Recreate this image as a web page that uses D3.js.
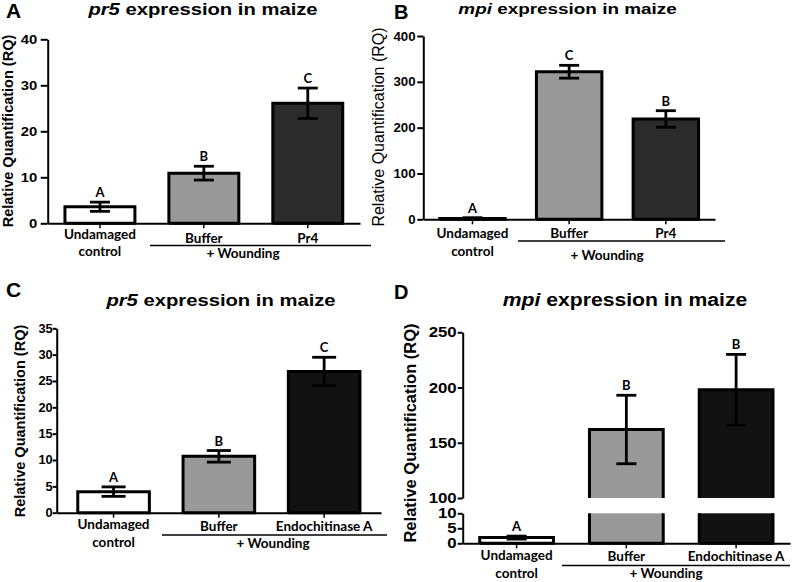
<!DOCTYPE html>
<html><head><meta charset="utf-8">
<script src="https://cdn.jsdelivr.net/npm/d3@7"></script>
<style>body{margin:0;background:#fff} svg{display:block}</style>
</head><body>
<svg id="c" width="797" height="582"></svg>
<script>
// ---------- data ----------
const categoriesPr4 = ["Undamaged|control", "Buffer", "Pr4"];
const categoriesEndo = ["Undamaged|control", "Buffer", "Endochitinase A"];
const pr5Pr4Means = [3.6, 10.9, 26.1];
const pr5Pr4Errors = [1.0, 1.5, 3.3];
const pr5Pr4Letters = ["A", "B", "C"];
const mpiPr4Means = [2, 322, 219];
const mpiPr4Errors = [1.5, 14, 18];
const mpiPr4Letters = ["A", "C", "B"];
const pr5EndoMeans = [4.0, 10.7, 26.8];
const pr5EndoErrors = [0.9, 1.1, 2.7];
const pr5EndoLetters = ["A", "B", "C"];
const mpiEndoMeans = [1.9, 162, 198];
const mpiEndoErrors = [0.5, 31, 32];
const mpiEndoLetters = ["A", "B", "B"];
const ticksA = [0, 10, 20, 30, 40];
const ticksB = [0, 100, 200, 300, 400];
const ticksC = [0, 5, 10, 15, 20, 25, 30, 35];
const ticksDLower = [0, 5, 10];
const ticksDUpper = [100, 150, 200, 250];
const fillsPr4 = ["#ffffff", "#999999", "#2b2b2b"];
const fillsEndo = ["#ffffff", "#999999", "#121212"];
const titleGenes = ["pr5", "mpi", "pr5", "mpi"];
const panelLetters = ["A", "B", "C", "D"];
const yTitle = "Relative Quantification (RQ)";
const groupLabel = "+ Wounding";

const svg = d3.select("#c");
const ARIAL = "'Liberation Sans', Arial, sans-serif";
const CAL = "Lato, 'Open Sans', sans-serif";

const panels = [
  { letter: panelLetters[0], gene: titleGenes[0], cats: categoriesPr4, means: pr5Pr4Means, errs: pr5Pr4Errors, letters: pr5Pr4Letters, fills: fillsPr4,
    x0: 47.7, x1: 360, pi: 0.327, po: 0.166,
    segs: [{ d: [0, 40], r: [223.3, 39.3], ticks: ticksA }],
    tk: { fs: 13.5, sx: 1.1, size: 7, gap: 10.4 }, cap: 20,
    yt: { cx: 8, cy: 131, fs: 14.5, w: "bold" },
    pl: { x: 6, y: 18, fs: 21 }, title: { cx: 203, y: 15, fs: 17, sx: 1.19 },
    lab: { u1: 239, u2: 256, o: 243, line: 245.5, lx0: 150, lx1: 371, wy: 258, wx: 243 } },
  { letter: panelLetters[1], gene: titleGenes[1], cats: categoriesPr4, means: mpiPr4Means, errs: mpiPr4Errors, letters: mpiPr4Letters, fills: fillsPr4,
    x0: 423.3, x1: 715, pi: 0.323, po: 0.17,
    segs: [{ d: [0, 400], r: [219.3, 36], ticks: ticksB }],
    tk: { fs: 12.5, sx: 1.06, size: 6, gap: 7.8 }, cap: 20,
    yt: { cx: 378, cy: 127, fs: 16, w: "normal" },
    pl: { x: 394, y: 18.5, fs: 20 }, title: { cx: 567.5, y: 14, fs: 15.5, sx: 1.22 },
    lab: { u1: 238, u2: 256, o: 238, line: 241, lx0: 518, lx1: 725, wy: 260, wx: 607 } },
  { letter: panelLetters[2], gene: titleGenes[2], cats: categoriesEndo, means: pr5EndoMeans, errs: pr5EndoErrors, letters: pr5EndoLetters, fills: fillsEndo,
    x0: 56.7, x1: 381, pi: 0.32, po: 0.2,
    segs: [{ d: [0, 35], r: [512.7, 328.3], ticks: ticksC }],
    tk: { fs: 12, sx: 1.07, size: 4, gap: 4 }, cap: 24,
    yt: { cx: 20, cy: 421, fs: 14.5, w: "bold" },
    pl: { x: 6, y: 296.5, fs: 21 }, title: { cx: 221, y: 305.5, fs: 17, sx: 1.19 },
    lab: { u1: 529, u2: 547, o: 531, line: 535, lx0: 162, lx1: 387, wy: 548, wx: 273 } },
  { letter: panelLetters[3], gene: titleGenes[3], cats: categoriesEndo, means: mpiEndoMeans, errs: mpiEndoErrors, letters: mpiEndoLetters, fills: fillsEndo,
    x0: 462.7, x1: 790, pi: 0.328, po: 0.155,
    segs: [{ d: [0, 10], r: [543.3, 513.3], ticks: ticksDLower }, { d: [100, 250], r: [498, 332.3], ticks: ticksDUpper }],
    tk: { fs: 14, sx: 1.2, size: 5, gap: 6 }, cap: 20,
    yt: { cx: 410, cy: 433, fs: 16.5, w: "bold" },
    pl: { x: 394, y: 298.5, fs: 20 }, title: { cx: 625, y: 305.5, fs: 17.5, sx: 1.21 },
    lab: { u1: 560, u2: 578, o: 561, line: 565.5, lx0: 562, lx1: 790, wy: 578, wx: 666 } }
];

function catText(g, x, y, s, fs) {
  return g.append("text").attr("x", x).attr("y", y).attr("text-anchor", "middle")
    .attr("font-family", CAL).attr("font-weight", "bold").attr("font-size", fs).attr("fill", "#000").text(s);
}

function drawPanel(p) {
  const g = svg.append("g");
  const x = d3.scaleBand().domain(p.cats).range([p.x0, p.x1]).paddingInner(p.pi).paddingOuter(p.po);
  const segs = p.segs.map(s => ({ ...s, y: d3.scaleLinear().domain(s.d).range(s.r) }));
  const segFor = v => segs.find(s => v >= s.d[0] && v <= s.d[1]) || segs[segs.length - 1];
  const yv = v => segFor(v).y(v);
  const y0 = segs[0].y(segs[0].d[0]);

  // bars
  p.cats.forEach((c, i) => {
    const v = p.means[i];
    const bx = x(c), bw = x.bandwidth();
    segs.forEach((s, si) => {
      if (v <= s.d[0]) return;
      const top = Math.min(v, s.d[1]);
      const yTop = s.y(top), yBot = s.y(s.d[0]);
      g.append("rect").attr("x", bx).attr("y", yTop).attr("width", bw).attr("height", yBot - yTop)
        .attr("fill", p.fills[i]);
      let path = `M${bx},${yBot}V${yTop}`;
      if (v <= s.d[1]) path += `H${bx + bw}`; else path += `M${bx + bw},${yTop}`;
      path += `V${yBot}`;
      if (si === 0) path += `H${bx}`;
      g.append("path").attr("d", path).attr("fill", "none").attr("stroke", "#000")
        .attr("stroke-width", 3).attr("stroke-linejoin", "miter");
    });
    // error bar
    const e = p.errs[i], cx = bx + bw / 2;
    const yHi = yv(v + e), yLo = yv(Math.max(0, v - e));
    const eg = g.append("g").attr("stroke", "#000").attr("stroke-width", 2.8).attr("fill", "none");
    eg.append("line").attr("x1", cx).attr("x2", cx).attr("y1", yHi).attr("y2", yLo);
    eg.append("line").attr("x1", cx - p.cap / 2).attr("x2", cx + p.cap / 2).attr("y1", yHi).attr("y2", yHi);
    eg.append("line").attr("x1", cx - p.cap / 2).attr("x2", cx + p.cap / 2).attr("y1", yLo).attr("y2", yLo);
    // significance letter
    catText(g, cx, yHi - 5, p.letters[i], 13);
  });

  // y axes
  segs.forEach(s => {
    const ax = g.append("g").attr("transform", `translate(${p.x0},0)`)
      .call(d3.axisLeft(s.y).tickValues(s.ticks).tickSize(p.tk.size).tickSizeOuter(0));
    ax.select(".domain").attr("stroke-width", 2);
    ax.selectAll(".tick line").attr("stroke-width", 2);
    ax.selectAll(".tick text").attr("font-family", ARIAL).attr("font-weight", "bold")
      .attr("font-size", p.tk.fs).attr("fill", "#000")
      .attr("x", -p.tk.gap / p.tk.sx).attr("transform", `scale(${p.tk.sx},1)`);
  });
  // x axis
  const xa = g.append("g").attr("transform", `translate(0,${y0})`)
    .call(d3.axisBottom(x).tickSize(5).tickSizeOuter(0).tickFormat(""));
  xa.select(".domain").attr("stroke-width", 2);
  xa.selectAll(".tick line").attr("stroke-width", 1.5);

  // category labels
  p.cats.forEach((c) => {
    const parts = c.split("|");
    const cx = x(c) + x.bandwidth() / 2;
    if (parts.length > 1) {
      catText(g, cx, p.lab.u1, parts[0], 13.5);
      catText(g, cx, p.lab.u2, parts[1], 13.5);
    } else {
      catText(g, cx, p.lab.o, parts[0], 13.5);
    }
  });
  g.append("line").attr("x1", p.lab.lx0).attr("x2", p.lab.lx1).attr("y1", p.lab.line).attr("y2", p.lab.line)
    .attr("stroke", "#000").attr("stroke-width", 1.5);
  catText(g, p.lab.wx, p.lab.wy, groupLabel, 13.5);

  // y title
  g.append("text").attr("transform", `translate(${p.yt.cx},${p.yt.cy}) rotate(-90)`)
    .attr("text-anchor", "middle").attr("dy", "0.35em")
    .attr("font-family", ARIAL).attr("font-weight", p.yt.w).attr("font-size", p.yt.fs).text(yTitle);

  // panel letter
  g.append("text").attr("x", p.pl.x).attr("y", p.pl.y).attr("font-family", ARIAL)
    .attr("font-weight", "bold").attr("font-size", p.pl.fs).text(p.letter);

  // title (horizontally stretched like the source figure)
  const t = g.append("g").attr("transform", `translate(${p.title.cx},${p.title.y}) scale(${p.title.sx},1)`)
    .append("text").attr("x", 0).attr("y", 0).attr("text-anchor", "middle")
    .attr("font-family", ARIAL).attr("font-weight", "bold").attr("font-size", p.title.fs);
  t.append("tspan").attr("font-style", "italic").text(p.gene);
  t.append("tspan").text(" expression in maize");
}

panels.forEach(drawPanel);
</script>
</body></html>
